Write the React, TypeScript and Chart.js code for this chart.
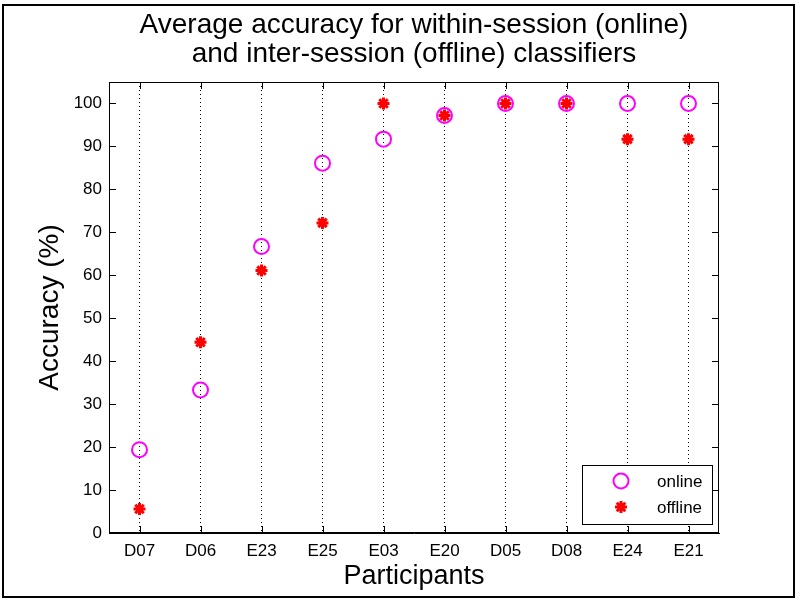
import React, { useEffect, useRef } from "react";
import { Chart, registerables } from "chart.js";
import { drawPoint } from "chart.js/helpers";

Chart.register(...registerables);

const participants = ["D07", "D06", "E23", "E25", "E03", "E20", "D05", "D08", "E24", "E21"];
const onlineAcc = [19.4, 33.3, 66.7, 86.1, 91.7, 97.2, 100, 100, 100, 100];
const offlineAcc = [5.6, 44.4, 61.1, 72.2, 100, 97.2, 100, 100, 91.7, 91.7];
const titleLines = ["Average accuracy for within-session (online)", "and inter-session (offline) classifiers"];
const xTitle = "Participants";
const yTitle = "Accuracy (%)";
const legendLabels = ["online", "offline"];

const FONT = "'Liberation Sans', Arial, Helvetica, sans-serif";

const decorPlugin = {
  id: "decor",
  afterDatasetsDraw(chart: any) {
    const { ctx, chartArea, scales } = chart;
    const { left, right, top, bottom } = chartArea;
    ctx.save();
    // box
    ctx.strokeStyle = "#000";
    ctx.lineWidth = 1;
    ctx.setLineDash([]);
    ctx.strokeRect(left + 0.5, top + 0.5, right - left - 1, bottom - top - 1);
    // inner ticks
    const tl = 7;
    ctx.beginPath();
    scales.y.ticks.forEach((t: any) => {
      const y = Math.round(scales.y.getPixelForValue(t.value)) + 0.5;
      ctx.moveTo(left, y);
      ctx.lineTo(left + tl, y);
      ctx.moveTo(right, y);
      ctx.lineTo(right - tl, y);
    });
    scales.x.ticks.forEach((t: any, i: number) => {
      const x = Math.round(scales.x.getPixelForTick(i)) + 0.5;
      ctx.moveTo(x, bottom);
      ctx.lineTo(x, bottom - tl);
      ctx.moveTo(x, top);
      ctx.lineTo(x, top + tl);
    });
    ctx.stroke();
    ctx.restore();
  },
  afterDraw(chart: any) {
    const { ctx, chartArea } = chart;
    const { left, right, top, bottom } = chartArea;
    const cx = (left + right) / 2;
    ctx.save();
    ctx.fillStyle = "#000";
    ctx.textAlign = "center";
    ctx.textBaseline = "alphabetic";
    ctx.font = `28px ${FONT}`;
    ctx.fillText(titleLines[0], cx, 33);
    ctx.fillText(titleLines[1], cx, 62);
    ctx.font = `27px ${FONT}`;
    ctx.fillText(xTitle, cx, 584);
    ctx.save();
    ctx.translate(58, (top + bottom) / 2);
    ctx.rotate(-Math.PI / 2);
    ctx.font = `28px ${FONT}`;
    ctx.fillText(yTitle, 0, 0);
    ctx.restore();

    // legend
    const lx = 582, ly = 465, lw = 130, lh = 59;
    ctx.fillStyle = "#fff";
    ctx.fillRect(lx, ly, lw, lh);
    ctx.strokeStyle = "#000";
    ctx.lineWidth = 1;
    ctx.strokeRect(lx + 0.5, ly + 0.5, lw, lh);
    const ds = chart.data.datasets;
    const rows = [481, 507];
    ds.forEach((d: any, i: number) => {
      ctx.strokeStyle = d.borderColor;
      ctx.fillStyle = "transparent";
      ctx.lineWidth = d.borderWidth;
      drawPoint(ctx, { pointStyle: d.pointStyle, radius: d.pointRadius, borderWidth: d.borderWidth, rotation: 0 }, 621, rows[i]);
      ctx.fillStyle = "#000";
      ctx.textAlign = "left";
      ctx.textBaseline = "middle";
      ctx.font = `17px ${FONT}`;
      ctx.fillText(legendLabels[i], 657, rows[i] + 1);
    });

    // outer frame
    ctx.strokeStyle = "#000";
    ctx.lineWidth = 2;
    ctx.strokeRect(3, 5, 791, 592);
    ctx.restore();
  },
};

export default function App() {
  const ref = useRef<HTMLCanvasElement>(null);
  useEffect(() => {
    if (!ref.current) return;
    const chart = new Chart(ref.current, {
      type: "line",
      data: {
        labels: participants,
        datasets: [
          {
            label: legendLabels[0],
            data: onlineAcc,
            showLine: false,
            pointStyle: "circle",
            pointRadius: 7.5,
            borderWidth: 2,
            borderColor: "#FF00FF",
            backgroundColor: "rgba(0,0,0,0)",
            pointBackgroundColor: "rgba(0,0,0,0)",
            order: 2,
          },
          {
            label: legendLabels[1],
            data: offlineAcc,
            showLine: false,
            pointStyle: "star",
            pointRadius: 6,
            borderWidth: 3,
            borderColor: "#FF0000",
            backgroundColor: "#FF0000",
            order: 1,
          },
        ] as any,
      },
      options: {
        responsive: false,
        animation: false,
        events: [],
        layout: { padding: { top: 82, right: 81, left: 0, bottom: 0 } },
        plugins: { legend: { display: false }, tooltip: { enabled: false }, title: { display: false } },
        scales: {
          x: {
            type: "category",
            offset: true,
            grid: { display: true, offset: false, color: "#000", lineWidth: 1, drawTicks: false },
            border: { display: true, color: "#000", width: 1, dash: [1, 3] },
            ticks: { color: "#000", font: { family: FONT, size: 17 }, padding: 8, maxRotation: 0, autoSkip: false },
            afterFit: (s: any) => { s.height = 71; },
          },
          y: {
            min: 0,
            max: 105,
            grid: { display: false, drawTicks: false },
            border: { display: true, color: "#000", width: 1 },
            ticks: { stepSize: 10, color: "#000", font: { family: FONT, size: 17 }, padding: 7 },
            afterBuildTicks: (s: any) => { s.ticks = s.ticks.filter((t: any) => t.value % 10 === 0 && t.value <= 100); },
            afterFit: (s: any) => { s.width = 109; },
          },
        },
      } as any,
      plugins: [decorPlugin],
    });
    return () => chart.destroy();
  }, []);
  return (
    <div style={{ position: "fixed", left: 0, top: 0, width: 800, height: 604, background: "#fff" }}>
      <canvas ref={ref} width={800} height={604} style={{ display: "block" }} />
    </div>
  );
}
